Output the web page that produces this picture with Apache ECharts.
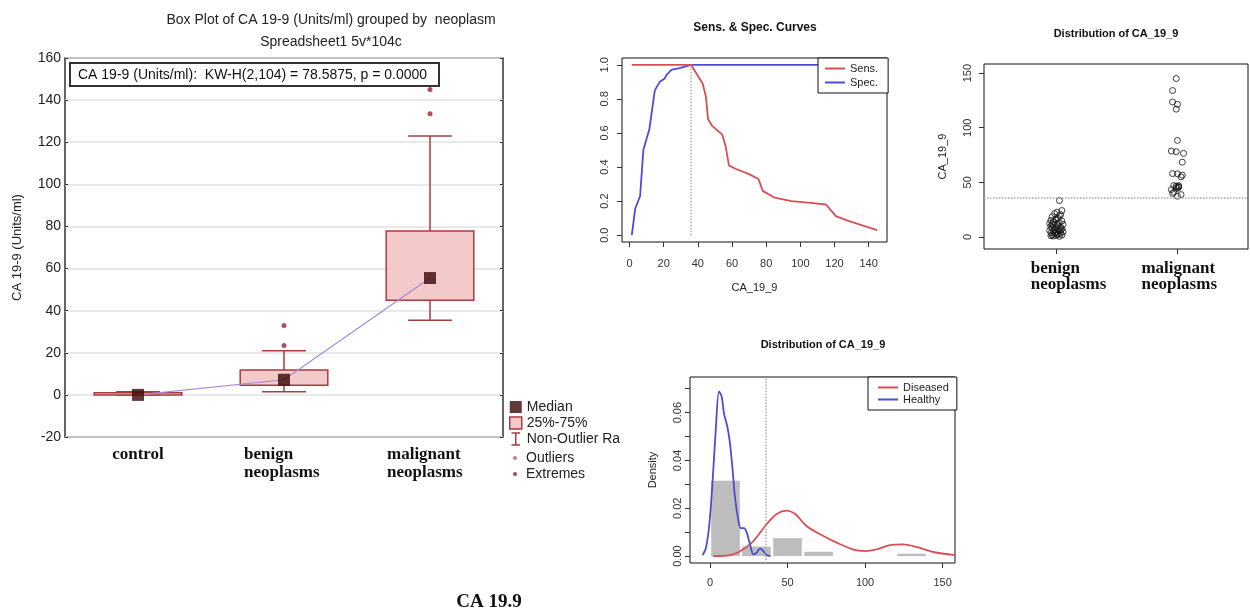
<!DOCTYPE html>
<html>
<head>
<meta charset="utf-8">
<title>CA 19.9</title>
<script src="https://cdn.jsdelivr.net/npm/echarts@6/dist/echarts.min.js"></script>
<style>
html,body{margin:0;padding:0;background:#fff;}
#main{width:1250px;height:611px;}
</style>
</head>
<body>
<div id="main"></div>
<script>
// --- box plot (Statistica) ---
var boxCats = ['control', 'benign neoplasms', 'malignant neoplasms'];
var boxLow = [0, 1.5, 35.5];
var boxQ1 = [0, 4.6, 44.9];
var boxMedian = [0, 7.2, 55.5];
var boxQ3 = [1, 11.8, 77.8];
var boxHigh = [1.5, 21, 123];
var outlierPts = [[1, 23.5], [1, 33], [2, 133.5], [2, 145]];

// --- sens & spec curves ---
var cutoff = 36;
var sensX = [1.35, 36, 42.8, 44.7, 46, 48.5, 54.3, 56.3, 58.2, 62, 69.7, 75.5, 78, 85, 94.8, 106, 115, 121, 129.5, 145];
var sensY = [1, 1, 0.89, 0.815, 0.68, 0.64, 0.59, 0.52, 0.41, 0.39, 0.36, 0.33, 0.26, 0.22, 0.2, 0.19, 0.18, 0.11, 0.08, 0.03];
var specX = [1.35, 3.3, 6.2, 8.1, 10.4, 11.6, 14.8, 17.7, 20.6, 21.6, 24.5, 29.3, 36, 145];
var specY = [0, 0.155, 0.23, 0.5, 0.58, 0.62, 0.85, 0.9, 0.92, 0.94, 0.97, 0.98, 1, 1];
var ssXTicks = [0, 20, 40, 60, 80, 100, 120, 140];
var ssYTicks = [0, 0.2, 0.4, 0.6, 0.8, 1.0];

// --- strip chart: [jittered group position, value] ---
var benignPts = [[1.03,33.3],[1.05,24.2],[1.01,22.7],[0.99,21.4],[1.04,20.5],[0.97,18.6],[1.02,17.1],[1.0,15.8],
  [0.96,15.2],[1.05,14.6],[0.98,13.9],[1.03,13.2],[0.95,12.5],[1.01,12.0],[1.06,11.4],[0.98,10.8],[1.02,10.1],
  [0.96,9.6],[1.04,9.0],[1.0,8.6],[0.97,8.1],[1.05,7.5],[0.99,7.0],[1.02,6.6],[0.95,6.1],[1.03,5.7],[0.98,5.2],
  [1.06,4.8],[1.0,4.3],[0.96,3.9],[1.04,3.4],[0.99,3.0],[1.02,2.5],[0.97,2.1],[1.05,1.7],[1.0,1.3],[0.98,0.9],
  [1.03,0.6],[0.96,1.1],[1.01,2.8],[1.04,5.9],[0.97,11.9],[1.0,16.5],[1.03,19.4]];
var malignantPts = [[1.99,145],[1.96,134],[1.96,123.5],[2.0,121.4],[1.99,117],[2.0,88.4],[1.95,78.6],[1.99,78],
  [2.05,76.5],[2.04,68.5],[1.96,58],[2.0,57.8],[2.04,56.6],[2.03,55],[1.97,47],[1.99,46.5],[2.01,45.6],[2.01,47],
  [1.99,45],[1.95,43.4],[1.97,41],[2.03,38.8],[2.0,37.3],[1.96,39.8],[2.01,46],[2.0,44.5]];
var stripYTicks = [0, 50, 100, 150];

// --- density + histogram ---
var healthyDens = [[-4.7,0.0004],[-2.6,0.0035],[-0.4,0.0134],[1.7,0.0316],[3.7,0.0527],[5.8,0.0689],[7.5,0.0668],
  [9,0.0597],[11.2,0.0541],[12.9,0.0471],[14.6,0.0358],[16.1,0.0246],[18.3,0.0148],[19.8,0.0117],[21.9,0.0117],
  [23.7,0.0098],[25.8,0.0049],[28,0.0007],[30,0.0014],[32.3,0.0032],[34.4,0.0021],[36.6,0.0004],[39,0]];
var diseasedDens = [[2,0],[13,0.0004],[19.4,0.002],[28,0.0063],[36.6,0.0134],[43,0.0176],[49.5,0.019],[55,0.0176],
  [62,0.0127],[71,0.0091],[81.7,0.0056],[92.5,0.0027],[100,0.0021],[107.5,0.0028],[116,0.0046],[124.7,0.0049],
  [133,0.0038],[144,0.0017],[158,0.0004]];
var histBins = [0, 20, 40, 60, 80, 100, 120, 140];
var histDensity = [0.0315, 0.004, 0.0075, 0.0018, 0, 0, 0.001];
var densXTicks = [0, 50, 100, 150];
var densYTicks = [0, 0.01, 0.02, 0.03, 0.04, 0.05, 0.06, 0.07];
var densYLabels = [0, 0.02, 0.04, 0.06];

var SANS = 'Liberation Sans, Arial, sans-serif';
var SERIF = 'Liberation Serif, Times New Roman, serif';
var boxRed = '#a63d40';
var rRed = '#d94f55';
var rBlue = '#4c4cd6';

function pairs(xs, ys) {
  return xs.map(function (x, i) { return [x, ys[i]]; });
}

function renderBox(params, api) {
  var c = api.value(0);
  var top = api.coord([c, api.value(2)]);
  var bot = api.coord([c, api.value(1)]);
  var w = api.size([1, 0])[0] * 0.6;
  var h = Math.max(bot[1] - top[1], 2);
  return {type: 'rect', shape: {x: top[0] - w / 2, y: top[1], width: w, height: h},
    style: {fill: '#f3c9c9', stroke: boxRed, lineWidth: 1.5}};
}

function renderWhisker(params, api) {
  var c = api.value(0);
  var lo = api.coord([c, api.value(1)]);
  var hi = api.coord([c, api.value(2)]);
  var half = api.size([1, 0])[0] * 0.15;
  var st = {stroke: boxRed, lineWidth: 1.5};
  return {type: 'group', children: [
    {type: 'line', shape: {x1: lo[0], y1: lo[1], x2: hi[0], y2: hi[1]}, style: st},
    {type: 'line', shape: {x1: lo[0] - half, y1: lo[1], x2: lo[0] + half, y2: lo[1]}, style: st},
    {type: 'line', shape: {x1: hi[0] - half, y1: hi[1], x2: hi[0] + half, y2: hi[1]}, style: st}
  ]};
}

function renderHist(params, api) {
  var h = api.value(2);
  if (!h) return null;
  var a = api.coord([api.value(0), h]);
  var b = api.coord([api.value(1), 0]);
  return {type: 'rect', shape: {x: a[0] + 1.2, y: a[1], width: b[0] - a[0] - 2.4, height: b[1] - a[1]},
    style: {fill: '#bdbdbd'}};
}

var histData = histDensity.map(function (d, i) { return [histBins[i], histBins[i + 1], d]; });

var rAxisLabel = {fontSize: 11, color: '#333', fontFamily: SANS};
var rTick = {inside: false, lineStyle: {color: '#333'}, length: 5};
var noLine = {show: false, onZero: false};

var myChart = echarts.init(document.getElementById('main'), null, {renderer: 'canvas'});
var option = {
  backgroundColor: '#fff',
  animation: false,
  textStyle: {fontFamily: SANS},
  graphic: [
    {type: 'text', x: 331, y: 20, style: {text: 'Box Plot of CA 19-9 (Units/ml) grouped by  neoplasm', align: 'center', verticalAlign: 'middle', font: '14px ' + SANS, fill: '#222'}},
    {type: 'text', x: 331, y: 42, style: {text: 'Spreadsheet1 5v*104c', align: 'center', verticalAlign: 'middle', font: '14px ' + SANS, fill: '#222'}},
    {type: 'group', z: 50, children: [
      {type: 'rect', shape: {x: 70, y: 63, width: 369, height: 23}, style: {fill: '#fff', stroke: '#333', lineWidth: 2}},
      {type: 'text', x: 78, y: 75, style: {text: 'CA 19-9 (Units/ml):  KW-H(2,104) = 78.5875, p = 0.0000', verticalAlign: 'middle', font: '14px ' + SANS, fill: '#111'}}
    ]},
    {type: 'text', x: 755, y: 28, style: {text: 'Sens. & Spec. Curves', align: 'center', verticalAlign: 'middle', font: 'bold 12px ' + SANS, fill: '#111'}},
    {type: 'text', x: 1116, y: 34, style: {text: 'Distribution of CA_19_9', align: 'center', verticalAlign: 'middle', font: 'bold 11px ' + SANS, fill: '#111'}},
    {type: 'text', x: 823, y: 345, style: {text: 'Distribution of CA_19_9', align: 'center', verticalAlign: 'middle', font: 'bold 11px ' + SANS, fill: '#111'}},
    {type: 'text', x: 489, y: 602, style: {text: 'CA 19.9', align: 'center', verticalAlign: 'middle', font: 'bold 19px ' + SERIF, fill: '#111'}}
  ],
  legend: [
    {left: 504, top: 395, orient: 'vertical', itemWidth: 12, itemHeight: 12, itemGap: 2, selectedMode: false,
      textStyle: {fontSize: 14, color: '#222', fontFamily: SANS},
      data: [
        {name: 'Median', icon: 'rect', itemStyle: {color: '#3b0606'}},
        {name: '25%-75%', icon: 'rect', itemStyle: {color: '#f3c9c9', borderColor: boxRed, borderWidth: 1.5}},
        {name: 'Non-Outlier Range', icon: 'path://M0,0L10,0M5,0L5,14M0,14L10,14',
          itemStyle: {color: 'transparent', borderColor: boxRed, borderWidth: 1.5},
          textStyle: {width: 101, overflow: 'truncate', ellipsis: ''}}
      ]},
    {left: 508, top: 446, orient: 'vertical', itemWidth: 12, itemHeight: 4, itemGap: 2, selectedMode: false,
      textStyle: {fontSize: 14, color: '#222', fontFamily: SANS},
      data: [
        {name: 'Outliers', icon: 'circle', itemStyle: {color: '#cc5a6a'}},
        {name: 'Extremes', icon: 'circle', itemStyle: {color: '#8b1a2a'}}
      ]},
    {left: 818, top: 58, orient: 'vertical', itemWidth: 20, itemHeight: 2, itemGap: 3, selectedMode: false,
      backgroundColor: '#fff', borderColor: '#111', borderWidth: 1, padding: [5, 10, 5, 7],
      textStyle: {fontSize: 11, color: '#222'},
      data: [{name: 'Sens.', icon: 'rect'}, {name: 'Spec.', icon: 'rect'}]},
    {left: 868, top: 377, orient: 'vertical', itemWidth: 20, itemHeight: 2, itemGap: 1, selectedMode: false,
      backgroundColor: '#fff', borderColor: '#111', borderWidth: 1, padding: [5, 8, 5, 10],
      textStyle: {fontSize: 11, color: '#222'},
      data: [{name: 'Diseased', icon: 'rect'}, {name: 'Healthy', icon: 'rect'}]}
  ],
  grid: [
    {left: 65, top: 58, width: 438, height: 379, show: true, borderColor: '#333', borderWidth: 1.5},
    {left: 622, top: 58, width: 265, height: 184, show: true, borderColor: '#111', borderWidth: 1},
    {left: 984, top: 64, width: 264, height: 185, show: true, borderColor: '#111', borderWidth: 1},
    {left: 690, top: 377, width: 265, height: 186, show: true, borderColor: '#111', borderWidth: 1}
  ],
  xAxis: [
    {gridIndex: 0, type: 'category', data: boxCats, boundaryGap: true, axisLine: noLine,
      axisTick: {alignWithLabel: true, inside: true, length: 4, lineStyle: {color: '#333'}},
      axisLabel: {margin: 9, interval: 0, fontFamily: SERIF, fontWeight: 'bold', fontSize: 17, color: '#111',
        formatter: function (v, i) {
          if (i === 0) return '{c|control}';
          if (i === 1) return '{b|benign}\n{b|neoplasms}';
          return '{m|malignant}\n{m|neoplasms}';
        },
        rich: {
          c: {fontFamily: SERIF, fontWeight: 'bold', fontSize: 17, lineHeight: 18, color: '#111'},
          b: {fontFamily: SERIF, fontWeight: 'bold', fontSize: 17, lineHeight: 18, color: '#111', width: 80, align: 'left'},
          m: {fontFamily: SERIF, fontWeight: 'bold', fontSize: 17, lineHeight: 18, color: '#111', width: 78, align: 'left', padding: [0, 8, 0, 0]}
        }}},
    {gridIndex: 0, type: 'category', position: 'top', data: boxCats, boundaryGap: true, axisLine: noLine,
      axisTick: {alignWithLabel: true, inside: true, length: 4, lineStyle: {color: '#333'}}, axisLabel: {show: false}},
    {gridIndex: 1, type: 'value', min: -4.4, max: 150.75, axisLine: noLine, splitLine: {show: false},
      axisTick: Object.assign({customValues: ssXTicks}, rTick),
      axisLabel: Object.assign({customValues: ssXTicks, margin: 16}, rAxisLabel),
      name: 'CA_19_9', nameLocation: 'middle', nameGap: 40, nameTextStyle: {fontSize: 11, color: '#222'}},
    {gridIndex: 2, type: 'value', min: 0.41, max: 2.58, axisLine: noLine, splitLine: {show: false},
      axisTick: Object.assign({customValues: [1, 2]}, rTick),
      axisLabel: {customValues: [1, 2], margin: 12, interval: 0,
        formatter: function (v) {
          return v === 1 ? '{a|benign}\n{a|neoplasms}' : '{n|malignant}\n{n|neoplasms}';
        },
        rich: {
          a: {fontFamily: SERIF, fontWeight: 'bold', fontSize: 17, lineHeight: 16, color: '#111', width: 80, align: 'left', padding: [0, 0, 0, 30]},
          n: {fontFamily: SERIF, fontWeight: 'bold', fontSize: 17, lineHeight: 16, color: '#111', width: 80, align: 'left', padding: [0, 0, 0, 8]}
        }}},
    {gridIndex: 3, type: 'value', min: -12.9, max: 158, axisLine: noLine, splitLine: {show: false},
      axisTick: Object.assign({customValues: densXTicks}, rTick),
      axisLabel: Object.assign({customValues: densXTicks, margin: 14}, rAxisLabel)}
  ],
  yAxis: [
    {gridIndex: 0, type: 'value', min: -20, max: 160, interval: 20, axisLine: noLine,
      axisTick: {show: true, inside: true, length: 3, lineStyle: {color: '#333'}},
      axisLabel: {margin: 4, fontSize: 14, color: '#222', fontFamily: SANS},
      splitLine: {lineStyle: {color: '#e2e2e2', width: 1.5}},
      name: 'CA 19-9 (Units/ml)', nameLocation: 'middle', nameGap: 41, nameTextStyle: {fontSize: 13, color: '#222'}},
    {gridIndex: 0, type: 'value', position: 'right', min: -20, max: 160, interval: 20, axisLine: noLine,
      axisTick: {show: true, inside: true, length: 3, lineStyle: {color: '#333'}},
      axisLabel: {show: false}, splitLine: {show: false}},
    {gridIndex: 1, type: 'value', min: -0.04, max: 1.04, axisLine: noLine, splitLine: {show: false},
      axisTick: Object.assign({show: true, customValues: ssYTicks}, rTick),
      axisLabel: Object.assign({customValues: ssYTicks, rotate: 90, margin: 12,
        formatter: function (v) { return v.toFixed(1); }}, rAxisLabel)},
    {gridIndex: 2, type: 'value', min: -11, max: 158.3, axisLine: noLine, splitLine: {show: false},
      axisTick: Object.assign({show: true, customValues: stripYTicks}, rTick),
      axisLabel: Object.assign({customValues: stripYTicks, rotate: 90, margin: 11}, rAxisLabel),
      name: 'CA_19_9', nameLocation: 'middle', nameGap: 36, nameTextStyle: {fontSize: 11, color: '#222'}},
    {gridIndex: 3, type: 'value', min: -0.0029, max: 0.0749, axisLine: noLine, splitLine: {show: false},
      axisTick: Object.assign({show: true, customValues: densYTicks}, rTick),
      axisLabel: Object.assign({customValues: densYLabels, rotate: 90, margin: 7,
        formatter: function (v) { return v.toFixed(2); }}, rAxisLabel),
      name: 'Density', nameLocation: 'middle', nameGap: 32, nameTextStyle: {fontSize: 11, color: '#222'}}
  ],
  series: [
    // box plot panel
    {name: 'Non-Outlier Range', type: 'custom', xAxisIndex: 0, yAxisIndex: 0, renderItem: renderWhisker,
      itemStyle: {color: boxRed}, encode: {x: 0, y: [1, 2]}, z: 2,
      data: boxCats.map(function (c, i) { return [i, boxLow[i], boxHigh[i]]; })},
    {name: '25%-75%', type: 'custom', xAxisIndex: 0, yAxisIndex: 0, renderItem: renderBox,
      itemStyle: {color: '#f3c9c9'}, encode: {x: 0, y: [1, 2]}, z: 3,
      data: boxCats.map(function (c, i) { return [i, boxQ1[i], boxQ3[i]]; })},
    {name: 'median line', type: 'line', xAxisIndex: 0, yAxisIndex: 0, symbol: 'none', z: 4,
      lineStyle: {color: '#a58bd8', width: 1.2}, data: boxMedian},
    {name: 'Median', type: 'scatter', xAxisIndex: 0, yAxisIndex: 0, symbol: 'rect', symbolSize: 12, z: 5,
      itemStyle: {color: '#3b0606'}, data: boxMedian.map(function (v, i) { return [i, v]; })},
    {name: 'Outliers', type: 'scatter', xAxisIndex: 0, yAxisIndex: 0, symbolSize: 5, z: 5,
      itemStyle: {color: '#9c2436'}, data: outlierPts},
    {name: 'Extremes', type: 'scatter', xAxisIndex: 0, yAxisIndex: 0, symbolSize: 5,
      itemStyle: {color: '#8b1a2a'}, data: []},
    // sens & spec panel
    {name: 'Sens.', type: 'line', xAxisIndex: 2, yAxisIndex: 2, symbol: 'none', z: 3,
      lineStyle: {color: rRed, width: 1.8}, itemStyle: {color: rRed}, data: pairs(sensX, sensY),
      markLine: {silent: true, symbol: 'none', label: {show: false},
        lineStyle: {color: '#aaa', type: 'dotted', width: 1.5},
        data: [[{coord: [cutoff, 0]}, {coord: [cutoff, 1]}]]}},
    {name: 'Spec.', type: 'line', xAxisIndex: 2, yAxisIndex: 2, symbol: 'none', z: 2,
      lineStyle: {color: rBlue, width: 1.8}, itemStyle: {color: rBlue}, data: pairs(specX, specY)},
    // strip chart panel
    {name: 'benign', type: 'scatter', xAxisIndex: 3, yAxisIndex: 3, symbolSize: 6,
      itemStyle: {color: 'rgba(0,0,0,0)', borderColor: '#111', borderWidth: 1}, data: benignPts,
      markLine: {silent: true, symbol: 'none', label: {show: false},
        lineStyle: {color: '#aaa', type: 'dotted', width: 1.5}, data: [{yAxis: cutoff}]}},
    {name: 'malignant', type: 'scatter', xAxisIndex: 3, yAxisIndex: 3, symbolSize: 6,
      itemStyle: {color: 'rgba(0,0,0,0)', borderColor: '#111', borderWidth: 1}, data: malignantPts},
    // density panel
    {name: 'hist', type: 'custom', xAxisIndex: 4, yAxisIndex: 4, renderItem: renderHist, z: 1,
      itemStyle: {color: '#bdbdbd'}, encode: {x: [0, 1], y: 2}, data: histData,
      markLine: {silent: true, symbol: 'none', label: {show: false},
        lineStyle: {color: '#aaa', type: 'dotted', width: 1.5}, data: [{xAxis: cutoff}]}},
    {name: 'Diseased', type: 'line', xAxisIndex: 4, yAxisIndex: 4, symbol: 'none', smooth: 0.3, z: 3,
      lineStyle: {color: rRed, width: 1.8}, itemStyle: {color: rRed}, data: diseasedDens},
    {name: 'Healthy', type: 'line', xAxisIndex: 4, yAxisIndex: 4, symbol: 'none', smooth: 0.3, z: 3,
      lineStyle: {color: rBlue, width: 1.8}, itemStyle: {color: rBlue}, data: healthyDens}
  ]
};
myChart.setOption(option);
</script>
</body>
</html>
